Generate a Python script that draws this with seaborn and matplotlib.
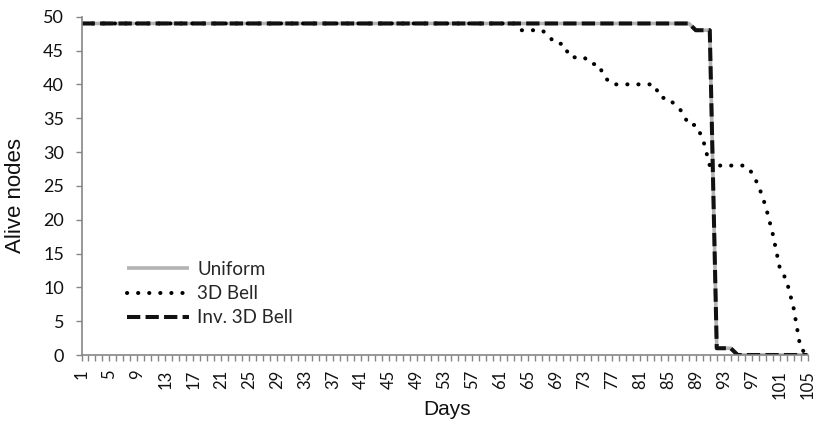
import matplotlib
matplotlib.use("Agg")
import matplotlib.pyplot as plt
import numpy as np
import pandas as pd
import seaborn as sns
from matplotlib.ticker import FixedLocator, MultipleLocator

# ---------------- data ----------------
days = list(range(1, 106))

uniform = [
    49, 49, 49, 49, 49, 49, 49, 49, 49, 49, 49, 49, 49, 49, 49,
    49, 49, 49, 49, 49, 49, 49, 49, 49, 49, 49, 49, 49, 49, 49,
    49, 49, 49, 49, 49, 49, 49, 49, 49, 49, 49, 49, 49, 49, 49,
    49, 49, 49, 49, 49, 49, 49, 49, 49, 49, 49, 49, 49, 49, 49,
    49, 49, 49, 49, 49, 49, 49, 49, 49, 49, 49, 49, 49, 49, 49,
    49, 49, 49, 49, 49, 49, 49, 49, 49, 49, 49, 49, 49, 48, 48,
    48, 1, 1, 1, 0, 0, 0, 0, 0, 0, 0, 0, 0, 0, 0,
]

bell_3d = [
    49, 49, 49, 49, 49, 49, 49, 49, 49, 49, 49, 49, 49, 49, 49,
    49, 49, 49, 49, 49, 49, 49, 49, 49, 49, 49, 49, 49, 49, 49,
    49, 49, 49, 49, 49, 49, 49, 49, 49, 49, 49, 49, 49, 49, 49,
    49, 49, 49, 49, 49, 49, 49, 49, 49, 49, 49, 49, 49, 49, 49,
    49, 49, 49, 48, 48, 48, 48, 47, 46, 46, 44, 44, 44, 43, 43,
    41, 40, 40, 40, 40, 40, 40, 40, 38, 38, 37, 36, 34, 34, 32,
    28, 28, 28, 28, 28, 28, 27, 25, 22, 18, 13, 11, 7, 1, 0,
]

inv_bell_3d = [
    49, 49, 49, 49, 49, 49, 49, 49, 49, 49, 49, 49, 49, 49, 49,
    49, 49, 49, 49, 49, 49, 49, 49, 49, 49, 49, 49, 49, 49, 49,
    49, 49, 49, 49, 49, 49, 49, 49, 49, 49, 49, 49, 49, 49, 49,
    49, 49, 49, 49, 49, 49, 49, 49, 49, 49, 49, 49, 49, 49, 49,
    49, 49, 49, 49, 49, 49, 49, 49, 49, 49, 49, 49, 49, 49, 49,
    49, 49, 49, 49, 49, 49, 49, 49, 49, 49, 49, 49, 49, 48, 48,
    48, 1, 1, 1, 0, 0, 0, 0, 0, 0, 0, 0, 0, 0, 0,
]

series_names = ["Uniform", "3D Bell", "Inv. 3D Bell"]
x_tick_days = [1, 5, 9, 13, 17, 21, 25, 29, 33, 37, 41, 45, 49, 53, 57,
               61, 65, 69, 73, 77, 81, 85, 89, 93, 97, 101, 105]
y_ticks = [0, 5, 10, 15, 20, 25, 30, 35, 40, 45, 50]

# ---------------- style ----------------
sns.set_theme(style="white")
plt.rcParams["font.family"] = ["Lato", "DejaVu Sans"]

df = pd.DataFrame({
    "Days": days * 3,
    "Alive nodes": uniform + bell_3d + inv_bell_3d,
    "Series": [series_names[0]] * len(days)
              + [series_names[1]] * len(days)
              + [series_names[2]] * len(days),
})

fig = plt.figure(figsize=(8.17, 4.26), dpi=100)
ax = fig.add_axes([81.5 / 817, 1 - 355 / 426, (807.5 - 81.5) / 817, (355 - 16.7) / 426])

styles = {
    "Uniform": dict(color="#b3b3b3", linewidth=2.6, linestyle="-"),
    "3D Bell": dict(color="black", linewidth=2.9, linestyle=(0, (0.05, 2.7))),
    "Inv. 3D Bell": dict(color="#111111", linewidth=2.9, linestyle=(0, (3.3, 1.3))),
}
capstyles = {"Uniform": "butt", "3D Bell": "round", "Inv. 3D Bell": "butt"}

for name in series_names:
    sub = df[df["Series"] == name]
    n_before = len(ax.lines)
    sns.lineplot(data=sub, x="Days", y="Alive nodes", ax=ax, label=name,
                 **styles[name])
    for ln in ax.lines[n_before:]:
        ln.set_dash_capstyle(capstyles[name])
        ln.set_solid_capstyle("butt")

ax.set_xlim(1, 105)
ax.set_ylim(0, 50)

spine_col = "#868686"
for s in ["top", "right"]:
    ax.spines[s].set_visible(False)
for s in ["left", "bottom"]:
    ax.spines[s].set_color(spine_col)
    ax.spines[s].set_linewidth(1.2)

ax.xaxis.set_major_locator(FixedLocator(x_tick_days))
ax.set_xticklabels([str(d) for d in x_tick_days], rotation=90)
ax.xaxis.set_minor_locator(MultipleLocator(1))
ax.yaxis.set_major_locator(FixedLocator(y_ticks))
ax.set_yticklabels([str(v) for v in y_ticks])

ax.tick_params(axis="both", which="both", direction="out", color=spine_col,
               width=1.0, length=4.6, labelcolor="#111111")
ax.tick_params(axis="x", which="both", bottom=True, pad=6, labelsize=12)
ax.tick_params(axis="y", which="major", left=True, pad=8, labelsize=13)

ax.set_xlabel("Days", fontsize=15, family=["Liberation Sans", "DejaVu Sans"],
              color="#111111")
ax.set_ylabel("Alive nodes", fontsize=16, family=["Liberation Sans", "DejaVu Sans"],
              color="#111111")
ax.xaxis.set_label_coords(0.503, -0.134)
ax.yaxis.set_label_coords(-0.077, 0.47)

handles, labels = ax.get_legend_handles_labels()
leg = ax.legend(handles, labels, loc="upper left",
                bbox_to_anchor=(127 / 817, 1 - 261 / 426),
                bbox_transform=fig.transFigure, frameon=False,
                fontsize=13.5, handlelength=3.3, handletextpad=0.45,
                labelspacing=0.38, borderpad=0, borderaxespad=0)

fig.savefig("out.png", dpi=100)
